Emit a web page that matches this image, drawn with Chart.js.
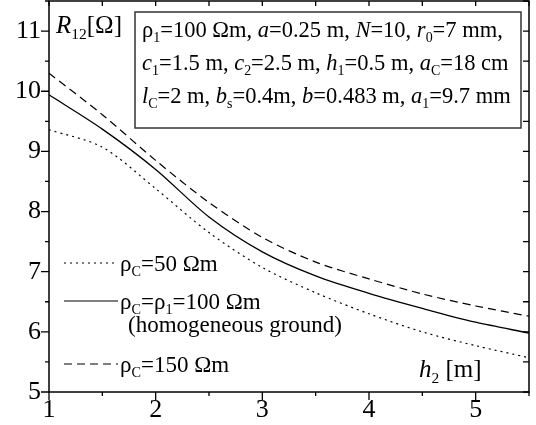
<!DOCTYPE html>
<html>
<head>
<meta charset="utf-8">
<script src="https://cdn.jsdelivr.net/npm/chart.js@4"></script>
<style>
  body { margin: 0; background: #fff; }
</style>
</head>
<body>
<canvas id="chart" width="536" height="425"></canvas>
<script>
// h2 [m]
const h2 = [1, 1.5, 2, 2.5, 3, 3.5, 4, 4.5, 5, 5.5];
// R12 [Ohm] for the three values of rhoC
const r50 = [9.36, 9.07, 8.38, 7.65, 7.07, 6.65, 6.30, 6.00, 5.77, 5.57];
const r100 = [9.94, 9.37, 8.70, 7.91, 7.33, 6.93, 6.64, 6.39, 6.16, 5.98];
const r150 = [10.30, 9.61, 8.85, 8.15, 7.57, 7.16, 6.88, 6.63, 6.43, 6.26];
const xLabels = [1, 2, 3, 4, 5];
const yLabels = [5, 6, 7, 8, 9, 10, 11];

const FONT = "'Liberation Serif', 'DejaVu Serif', serif";

// draw text made of parts: [text, style] ; style: '' | 'i' | 's' (subscript) | 'si'
function drawRich(ctx, x, y, parts, size) {
  parts.forEach(p => {
    const st = p[1] || '';
    const sub = st.includes('s');
    const it = st.includes('i');
    const fs = sub ? size * 0.62 : size;
    ctx.font = (it ? 'italic ' : '') + fs + 'px ' + FONT;
    ctx.fillText(p[0], x, y + (sub ? size * 0.22 : 0));
    x += ctx.measureText(p[0]).width;
  });
  return x;
}

const decor = {
  id: 'decor',
  afterDraw(chart) {
    const ctx = chart.ctx;
    const a = chart.chartArea;
    const xs = chart.scales.x, ys = chart.scales.y;
    ctx.save();
    ctx.strokeStyle = '#000';
    ctx.fillStyle = '#000';
    ctx.lineWidth = 1.5;
    ctx.strokeRect(a.left, a.top, a.right - a.left, a.bottom - a.top);

    // ticks
    ctx.lineWidth = 1.3;
    ctx.beginPath();
    for (let v = 1; v <= 5.5001; v += 0.5) {
      const px = xs.getPixelForValue(v);
      const major = Math.abs(v - Math.round(v)) < 0.01;
      ctx.moveTo(px, a.bottom); ctx.lineTo(px, a.bottom + (major ? 8 : 4));
      ctx.moveTo(px, a.top); ctx.lineTo(px, a.top + 5);
    }
    for (let v = 5; v <= 11.5001; v += 0.5) {
      const py = ys.getPixelForValue(v);
      const major = Math.abs(v - Math.round(v)) < 0.01;
      ctx.moveTo(a.left, py); ctx.lineTo(a.left - (major ? 8 : 4), py);
      ctx.moveTo(a.right, py); ctx.lineTo(a.right - 6, py);
    }
    ctx.stroke();

    // axis titles
    ctx.textBaseline = 'alphabetic';
    ctx.textAlign = 'left';
    drawRich(ctx, 56, 33, [['R', 'i'], ['12', 's'], ['[Ω]']], 25);
    drawRich(ctx, 419, 377, [['h', 'i'], ['2', 's'], [' [m]']], 25);

    // parameter box
    ctx.fillStyle = '#fff';
    ctx.fillRect(135, 12, 386, 116);
    ctx.strokeStyle = '#333';
    ctx.lineWidth = 1.5;
    ctx.strokeRect(135, 12, 386, 116);
    ctx.fillStyle = '#000';
    const bs = 22.5;
    drawRich(ctx, 142, 37, [['ρ'], ['1', 's'], ['=100 Ωm, '], ['a', 'i'], ['=0.25 m, '], ['N', 'i'], ['=10, '], ['r', 'i'], ['0', 's'], ['=7 mm,']], bs);
    drawRich(ctx, 142, 70, [['c', 'i'], ['1', 's'], ['=1.5 m, '], ['c', 'i'], ['2', 's'], ['=2.5 m, '], ['h', 'i'], ['1', 's'], ['=0.5 m, '], ['a', 'i'], ['C', 's'], ['=18 cm']], bs);
    drawRich(ctx, 142, 103, [['l', 'i'], ['C', 's'], ['=2 m, '], ['b', 'i'], ['s', 's'], ['=0.4m, '], ['b', 'i'], ['=0.483 m, '], ['a', 'i'], ['1', 's'], ['=9.7 mm']], bs);

    // legend
    const ls = 23;
    const items = [
      { y: 263, dash: [2, 4], parts: [['ρ'], ['C', 's'], ['=50 Ωm']] },
      { y: 301, dash: [], parts: [['ρ'], ['C', 's'], ['=ρ'], ['1', 's'], ['=100 Ωm']] },
      { y: 364, dash: [8, 5], parts: [['ρ'], ['C', 's'], ['=150 Ωm']] }
    ];
    ctx.lineWidth = 1.2;
    ctx.strokeStyle = '#000';
    items.forEach(it => {
      ctx.setLineDash(it.dash);
      ctx.beginPath();
      ctx.moveTo(64, it.y); ctx.lineTo(118, it.y);
      ctx.stroke();
      drawRich(ctx, 120, it.y + 8, it.parts, ls);
    });
    ctx.setLineDash([]);
    drawRich(ctx, 128, 332, [['(homogeneous ground)']], ls);
    ctx.restore();
  }
};

const pts = arr => h2.map((h, i) => ({ x: h, y: arr[i] }));

new Chart(document.getElementById('chart'), {
  type: 'line',
  data: {
    datasets: [
      { label: 'ρC=50 Ωm', data: pts(r50), borderColor: '#000', borderWidth: 1.2, borderDash: [2, 4], pointRadius: 0, tension: 0.3, fill: false },
      { label: 'ρC=ρ1=100 Ωm', data: pts(r100), borderColor: '#000', borderWidth: 1.3, pointRadius: 0, tension: 0.3, fill: false },
      { label: 'ρC=150 Ωm', data: pts(r150), borderColor: '#000', borderWidth: 1.2, borderDash: [8, 5], pointRadius: 0, tension: 0.3, fill: false }
    ]
  },
  options: {
    responsive: false,
    animation: false,
    layout: { padding: { top: 1, right: 7, left: 0, bottom: 0 } },
    plugins: { legend: { display: false }, tooltip: { enabled: false } },
    scales: {
      x: {
        type: 'linear', min: 1, max: 5.5,
        grid: { display: false, drawTicks: false, tickLength: 0 },
        border: { display: false },
        ticks: {
          stepSize: 0.5, autoSkip: false, maxRotation: 0, padding: 3,
          color: '#000', font: { family: FONT, size: 26 },
          callback: v => xLabels.includes(v) ? String(v) : ''
        },
        afterFit: s => { s.height = 33; s.paddingLeft = 0; s.paddingRight = 0; }
      },
      y: {
        type: 'linear', min: 5, max: 11.5,
        grid: { display: false, drawTicks: false, tickLength: 0 },
        border: { display: false },
        ticks: {
          stepSize: 0.5, autoSkip: false, padding: 8,
          color: '#000', font: { family: FONT, size: 26 },
          callback: v => yLabels.includes(v) ? String(v) : ''
        },
        afterFit: s => { s.width = 49; s.paddingTop = 0; s.paddingBottom = 0; }
      }
    }
  },
  plugins: [decor]
});
</script>
</body>
</html>
